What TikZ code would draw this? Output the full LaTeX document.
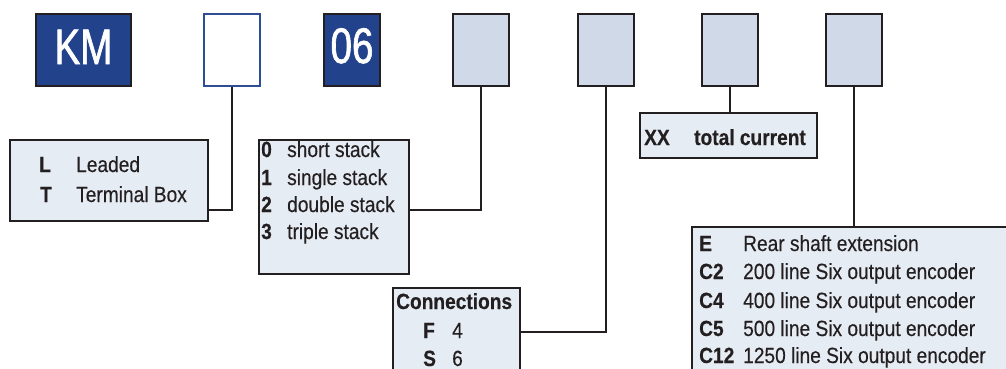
\documentclass[tikz,border=0pt]{standalone}
\usepackage{fontspec}
\setmainfont{Liberation Sans}
\newfontfamily\smallfnt{Liberation Sans}[FakeStretch=0.87,FakeBold=0.3]
\newfontfamily\bigfnt{Liberation Sans}[FakeStretch=0.77,FakeBold=1.3]
\definecolor{kmblue}{HTML}{22428B}
\definecolor{kmlight}{HTML}{CFD9E7}
\definecolor{kmpale}{HTML}{E6ECF4}
\definecolor{kmline}{HTML}{231F20}
\definecolor{kmedge}{HTML}{2E4E9A}
\begin{document}
\begin{tikzpicture}[x=1pt,y=-1pt,
  topbox/.style={draw=kmline, line width=2pt, anchor=north west, inner sep=0pt, minimum height=72pt},
  darkbox/.style={topbox, fill=kmblue},
  bigtxt/.style={anchor=base, inner sep=0pt, text=white, font=\bigfnt\fontsize{50}{54}\selectfont},
  lightbox/.style={topbox, fill=kmlight, minimum width=56pt},
  legend/.style={draw=kmline, line width=2pt, fill=kmpale, anchor=north west, inner sep=0pt},
  txt/.style={anchor=base west, inner sep=0pt, text=kmline, font=\smallfnt\fontsize{22}{26}\selectfont},
  code/.style={txt, font=\smallfnt\fontsize{22}{26}\selectfont\bfseries},
  conn/.style={draw=kmline, line width=2pt}]
\clip (0,0) rectangle (1006,368);
\fill[white] (0,0) rectangle (1006,368);
% top row
\node[darkbox, minimum width=95pt] (km) at (35,13) {};
\node[bigtxt] (kmt) at (83.5,64) {KM};
\node[topbox, draw=kmedge, line width=1.6pt, fill=white, minimum width=56pt] (w) at (203,13) {};
\node[darkbox, minimum width=56pt] (z) at (323,13) {};
\node[bigtxt] (zt) at (352,63) {06};
\node[lightbox] (b4) at (452,13) {};
\node[lightbox] (b5) at (577,13) {};
\node[lightbox] (b6) at (701,13) {};
\node[lightbox] (b7) at (825,13) {};
% legend boxes
\node[legend, minimum width=198pt, minimum height=81pt] (lt) at (9,139) {};
\node[code] (lL) at (39,172) {L};
\node[txt] (lLt) at (76,172) {Leaded};
\node[code] (lT) at (40,202) {T};
\node[txt] (lTt) at (76,202) {Terminal Box};

\node[legend, minimum width=150pt, minimum height=134pt] (st) at (258,139) {};
\node[code] (s0) at (261,157) {0};
\node[txt] (s0t) at (287,157) {short stack};
\node[code] (s1) at (261,185) {1};
\node[txt] (s1t) at (287,185) {single stack};
\node[code] (s2) at (261,212) {2};
\node[txt] (s2t) at (287,212) {double stack};
\node[code] (s3) at (261,239) {3};
\node[txt] (s3t) at (287,239) {triple stack};

\node[legend, minimum width=127pt, minimum height=110pt] (cn) at (392,287) {};
\node[code] (cnt) at (396,309) {Connections};
\node[code] (cF) at (423,338) {F};
\node[txt] (cFt) at (452,338) {4};
\node[code] (cS) at (423,366) {S};
\node[txt] (cSt) at (452,366) {6};

\node[legend, minimum width=177pt, minimum height=45pt] (xx) at (639,112) {};
\node[code] (xxc) at (644,145) {XX};
\node[code] (xxt) at (694,145) {total current};

\node[legend, minimum width=330pt, minimum height=160pt] (enc) at (691,226) {};
\node[code] (eE) at (699,251) {E};
\node[txt] (eEt) at (743,251) {Rear shaft extension};
\node[code] (e2) at (699,279) {C2};
\node[txt] (e2t) at (743,279) {200 line Six output encoder};
\node[code] (e4) at (699,308) {C4};
\node[txt] (e4t) at (743,308) {400 line Six output encoder};
\node[code] (e5) at (699,336) {C5};
\node[txt] (e5t) at (743,336) {500 line Six output encoder};
\node[code] (e12) at (699,363) {C12};
\node[txt] (e12t) at (743,363) {1250 line Six output encoder};
% connectors
\draw[conn] (w.south) |- ([yshift=12pt]lt.south east);
\draw[conn] (b4.south) |- ([yshift=65pt]st.south east);
\draw[conn] (b5.south) |- ([yshift=-45pt]cn.north east);
\draw[conn] (b6.south) -- (b6.south |- xx.north);
\draw[conn] (b7.south) -- (b7.south |- enc.north);
\end{tikzpicture}
\end{document}
